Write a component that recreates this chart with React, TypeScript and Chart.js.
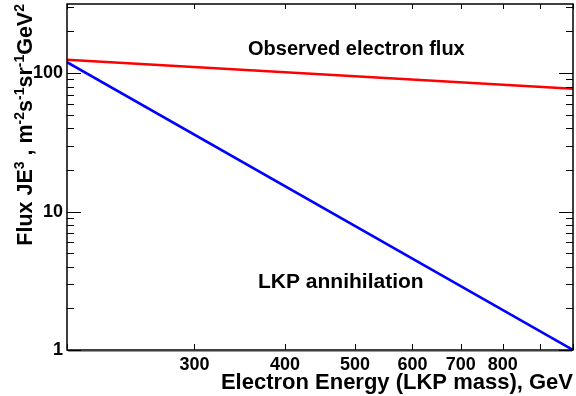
import React, { useEffect, useRef } from "react";
import { Chart, registerables } from "chart.js";
Chart.register(...registerables);

// ---- data ----
const energies = [200, 1000];
const observedFlux = [125, 77];
const lkpFlux = [120, 1];
const xTickValues = [200, 300, 400, 500, 600, 700, 800, 900, 1000];
const xLabeled = [300, 400, 500, 600, 700, 800];
const yTickValues = [1, 10, 100];
const xTitle = "Electron Energy (LKP mass), GeV";
const yTitleParts: [string, boolean][] = [
  ["Flux JE", false], ["3", true], [" , m", false], ["-2", true], ["s", false],
  ["-1", true], ["sr", false], ["-1", true], ["GeV", false], ["2", true],
];
const noteObserved = "Observed electron flux";
const noteLkp = "LKP annihilation";

const FONT = "'Liberation Sans', Arial, Helvetica, sans-serif";

const decor = {
  id: "rootDecor",
  afterDraw(chart: any) {
    const { ctx, chartArea: a, scales } = chart;
    const xs = scales.x, ys = scales.y;
    ctx.save();
    // frame
    ctx.strokeStyle = "rgba(230,60,60,0.7)";
    ctx.lineWidth = 1;
    ctx.beginPath();
    ctx.moveTo(a.left + 1, a.bottom + 1.5);
    ctx.lineTo(a.right - 1, a.bottom + 1.5);
    ctx.stroke();
    ctx.strokeStyle = "#000";
    ctx.lineWidth = 1.5;
    ctx.strokeRect(a.left, a.top, a.right - a.left, a.bottom - a.top);
    // x ticks (bottom & top)
    ctx.lineWidth = 1;
    ctx.beginPath();
    for (const v of xTickValues) {
      const px = Math.round(xs.getPixelForValue(v)) + 0.5;
      ctx.moveTo(px, a.bottom);
      ctx.lineTo(px, a.bottom - 6);
      ctx.moveTo(px, a.top);
      ctx.lineTo(px, a.top + 5);
    }
    // y ticks (left & right)
    for (let d = 1; d <= 100; d *= 10) {
      for (let m = 1; m <= 9; m++) {
        const v = d * m;
        if (v > ys.max) break;
        const py = Math.round(ys.getPixelForValue(v)) + 0.5;
        const len = m === 1 ? 14 : 7;
        ctx.moveTo(a.left, py);
        ctx.lineTo(a.left + len, py);
        ctx.moveTo(a.right, py);
        ctx.lineTo(a.right - len, py);
      }
    }
    ctx.stroke();
    // annotations
    ctx.fillStyle = "#000";
    ctx.textBaseline = "alphabetic";
    ctx.textAlign = "left";
    ctx.font = `bold 20px ${FONT}`;
    ctx.fillText(noteObserved, 248, 55);
    ctx.font = `bold 21px ${FONT}`;
    ctx.fillText(noteLkp, 258, 288);
    // x title
    ctx.font = `bold 22px ${FONT}`;
    ctx.textAlign = "right";
    ctx.fillText(xTitle, 573, 389);
    // y title with superscripts
    const big = `bold 21.5px ${FONT}`;
    const small = `bold 14px ${FONT}`;
    let total = 0;
    for (const [t, sup] of yTitleParts) {
      ctx.font = sup ? small : big;
      total += ctx.measureText(t).width;
    }
    ctx.translate(32, 4);
    ctx.rotate(-Math.PI / 2);
    ctx.textAlign = "left";
    let x = -total;
    for (const [t, sup] of yTitleParts) {
      ctx.font = sup ? small : big;
      ctx.fillText(t, x, sup ? -8.5 : 0);
      x += ctx.measureText(t).width;
    }
    ctx.restore();
  },
};

export default function App() {
  const ref = useRef<HTMLCanvasElement>(null);
  useEffect(() => {
    if (!ref.current) return;
    const chart = new Chart(ref.current, {
      type: "scatter",
      data: {
        datasets: [
          {
            label: "Observed electron flux",
            data: energies.map((e, i) => ({ x: e, y: observedFlux[i] })),
            showLine: true,
            borderColor: "#ff0000",
            borderWidth: 2.5,
            pointRadius: 0,
          },
          {
            label: "LKP annihilation",
            data: energies.map((e, i) => ({ x: e, y: lkpFlux[i] })),
            showLine: true,
            borderColor: "#0000ff",
            borderWidth: 2.5,
            pointRadius: 0,
          },
        ],
      },
      options: {
        animation: false,
        responsive: false,
        layout: { padding: { top: 4, right: 3, left: 0, bottom: 0 } },
        plugins: { legend: { display: false }, tooltip: { enabled: false } },
        scales: {
          x: {
            type: "logarithmic",
            min: 200,
            max: 1000,
            grid: { display: false, drawTicks: false },
            border: { display: false },
            afterBuildTicks: (s: any) => {
              s.ticks = xTickValues.map((v) => ({ value: v }));
            },
            afterFit: (s: any) => {
              s.height = 46;
              s.paddingLeft = 0;
              s.paddingRight = 0;
            },
            ticks: {
              autoSkip: false,
              maxRotation: 0,
              padding: 4,
              color: "#000",
              font: { family: FONT, size: 18, weight: "bold" },
              callback: (v: any) => (xLabeled.includes(Number(v)) ? String(v) : ""),
            },
          },
          y: {
            type: "logarithmic",
            min: 1,
            max: 316,
            grid: { display: false, drawTicks: false },
            border: { display: false },
            afterBuildTicks: (s: any) => {
              s.ticks = yTickValues.map((v) => ({ value: v }));
            },
            afterFit: (s: any) => {
              s.width = 67;
              s.paddingTop = 0;
              s.paddingBottom = 0;
            },
            ticks: {
              autoSkip: false,
              padding: 4,
              color: "#000",
              font: { family: FONT, size: 18, weight: "bold" },
              callback: (v: any) => String(v),
            },
          },
        },
      },
      plugins: [decor],
    });
    return () => chart.destroy();
  }, []);
  return (
    <div style={{ position: "fixed", left: 0, top: 0, width: 576, height: 396, background: "#fff" }}>
      <canvas ref={ref} width={576} height={396} />
    </div>
  );
}
